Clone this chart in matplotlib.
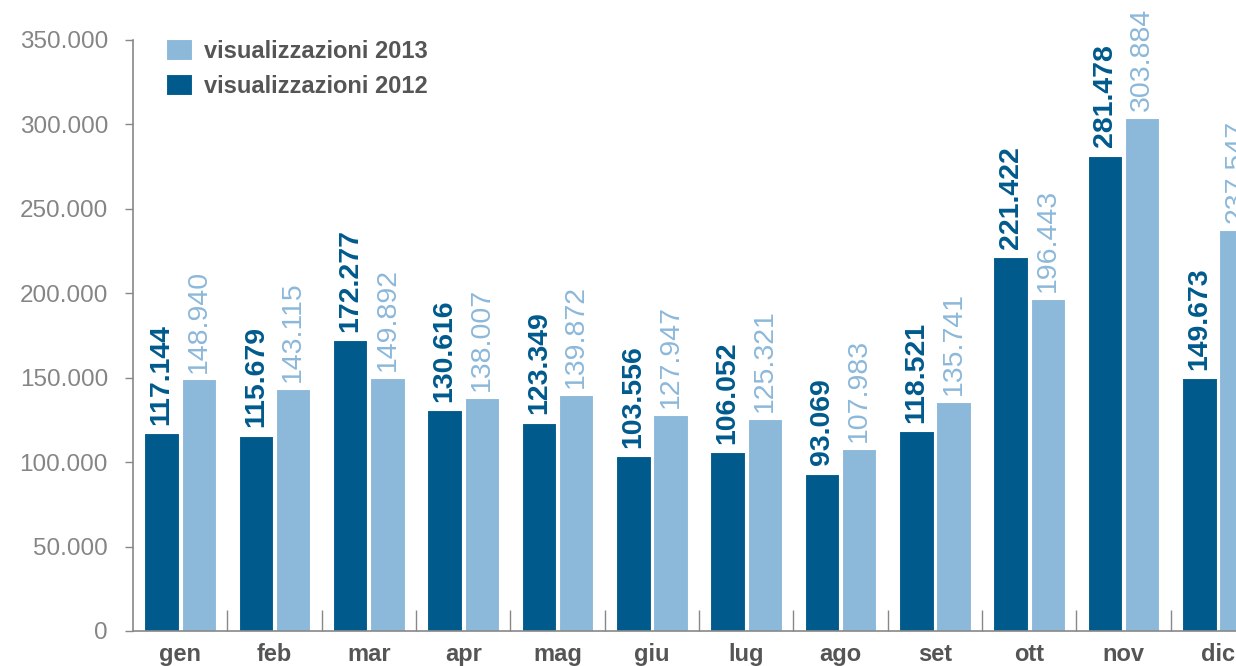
import numpy as np
import matplotlib.pyplot as plt
from matplotlib.ticker import FuncFormatter

# data
mesi = ["gen", "feb", "mar", "apr", "mag", "giu", "lug", "ago", "set", "ott", "nov", "dic"]
vis_2012 = [117144, 115679, 172277, 130616, 123349, 103556, 106052, 93069, 118521, 221422, 281478, 149673]
vis_2013 = [148940, 143115, 149892, 138007, 139872, 127947, 125321, 107983, 135741, 196443, 303884, 237547]
y_ticks = [0, 50000, 100000, 150000, 200000, 250000, 300000, 350000]

dark = "#005a8c"
light = "#8cb8da"
grey_txt = "#858585"
label_txt = "#555555"

plt.rcParams['font.family'] = ['Liberation Sans', 'DejaVu Sans']

fig = plt.figure(figsize=(12.36, 6.66), dpi=100)
# axes run past the right edge on purpose, like the reference (dic is cut off)
ax = fig.add_axes([0.1076, 0.0526, 0.916, 0.8874])

x = np.arange(len(mesi))
w = 0.365
off = 0.197

b12 = ax.bar(x - off, vis_2012, w, color=dark, edgecolor="white", linewidth=0.8, label="visualizzazioni 2012")
b13 = ax.bar(x + off, vis_2013, w, color=light, edgecolor="white", linewidth=0.8, label="visualizzazioni 2013")

def fmt(v):
    return f"{v:,}".replace(",", ".")

for rect, v in zip(b12, vis_2012):
    ax.annotate(fmt(v), (rect.get_x() + rect.get_width() / 2, v), xytext=(0, 6),
                textcoords="offset points", rotation=90, ha="center", va="bottom",
                fontsize=20.5, fontweight="bold", color=dark, annotation_clip=False)
for rect, v in zip(b13, vis_2013):
    ax.annotate(fmt(v), (rect.get_x() + rect.get_width() / 2, v), xytext=(0, 5),
                textcoords="offset points", rotation=90, ha="center", va="bottom",
                fontsize=20.5, color=light, annotation_clip=False)

ax.set_xlim(-0.5, len(mesi) - 0.5)
ax.set_ylim(0, 350000)

ax.set_yticks(y_ticks)
ax.yaxis.set_major_formatter(FuncFormatter(lambda v, p: fmt(int(v))))
ax.tick_params(axis="y", direction="out", length=6, width=1, color="#888888",
               labelsize=17.5, labelcolor=grey_txt, pad=12)

ax.set_xticks(x)
ax.set_xticklabels(mesi, fontsize=17, fontweight="bold", color=label_txt)
ax.tick_params(axis="x", length=0, pad=9)
ax.set_xticks(np.arange(0.5, len(mesi) - 0.5, 1), minor=True)
ax.tick_params(axis="x", which="minor", direction="in", length=15, width=1, color="#888888")

for s in ["top", "right"]:
    ax.spines[s].set_visible(False)
for s in ["left", "bottom"]:
    ax.spines[s].set_color("#888888")
    ax.spines[s].set_linewidth(1.2)

handles, labels = ax.get_legend_handles_labels()
leg = ax.legend(handles[::-1], labels[::-1], loc="upper left", bbox_to_anchor=(0.0208, 1.017),
                borderaxespad=0, frameon=False, prop={"size": 17, "weight": "bold"},
                handlelength=1.1, handleheight=1.0, handletextpad=0.5, labelspacing=0.48)
for t in leg.get_texts():
    t.set_color(label_txt)

fig.savefig("out.png", dpi=100)
